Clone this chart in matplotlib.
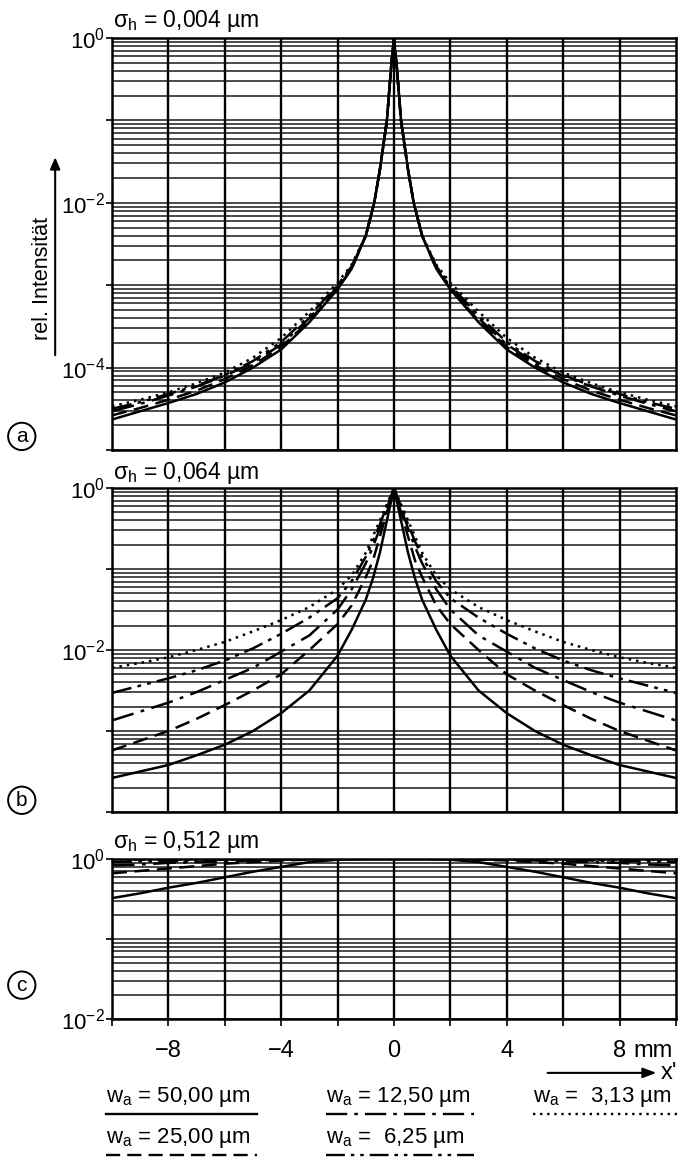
import numpy as np
import matplotlib
matplotlib.use("Agg")
import matplotlib.pyplot as plt
from matplotlib.lines import Line2D

plt.rcParams['font.family'] = ['Liberation Sans', 'DejaVu Sans']
plt.rcParams['mathtext.fontset'] = 'custom'
plt.rcParams['mathtext.rm'] = 'Liberation Sans'
plt.rcParams['mathtext.it'] = 'Liberation Sans'

# |x'| in mm and log10 of the rel. intensity (curves are symmetric)
widths = ['50,00', '25,00', '12,50', ' 6,25', ' 3,13']

# panel a, sigma_h = 0,004 um
xa = [0, 0.1, 0.25, 0.5, 0.7, 1, 1.5, 2, 3, 4, 5, 6, 7, 8, 9, 10]
la_50 = [0, -0.35, -1.0, -1.6, -2.0, -2.4, -2.8, -3.05, -3.45, -3.78, -4.0, -4.18, -4.32, -4.43, -4.53, -4.63]
la_25 = [0, -0.35, -1.0, -1.6, -2.0, -2.4, -2.8, -3.04, -3.43, -3.75, -3.97, -4.14, -4.28, -4.39, -4.49, -4.58]
la_12 = [0, -0.35, -1.0, -1.6, -2.0, -2.4, -2.78, -3.02, -3.4, -3.72, -3.94, -4.1, -4.23, -4.34, -4.44, -4.53]
la_6 = [0, -0.35, -1.0, -1.6, -2.0, -2.4, -2.77, -3.0, -3.37, -3.69, -3.92, -4.09, -4.22, -4.32, -4.42, -4.5]
la_3 = [0, -0.35, -1.0, -1.6, -2.0, -2.4, -2.75, -2.97, -3.32, -3.64, -3.88, -4.06, -4.19, -4.3, -4.39, -4.47]

# panel b, sigma_h = 0,064 um
xb = [0, 0.25, 0.5, 0.75, 1, 1.5, 2, 3, 4, 5, 6, 7, 8, 9, 10]
lb_50 = [0, -0.4, -0.8, -1.12, -1.38, -1.75, -2.07, -2.5, -2.78, -3.0, -3.17, -3.3, -3.42, -3.5, -3.58]
lb_25 = [0, -0.3, -0.6, -0.9, -1.1, -1.45, -1.68, -2.0, -2.3, -2.5, -2.68, -2.85, -3.0, -3.12, -3.24]
lb_12 = [0, -0.25, -0.5, -0.73, -0.93, -1.25, -1.5, -1.82, -2.02, -2.22, -2.37, -2.52, -2.65, -2.76, -2.87]
lb_6 = [0, -0.22, -0.45, -0.66, -0.85, -1.15, -1.36, -1.6, -1.8, -1.98, -2.13, -2.25, -2.35, -2.44, -2.53]
lb_3 = [0, -0.2, -0.4, -0.6, -0.8, -1.08, -1.25, -1.47, -1.63, -1.77, -1.9, -2.0, -2.09, -2.16, -2.22]

# panel c, sigma_h = 0,512 um
xc = [0, 1, 2, 3, 4, 5, 6, 7, 8, 9, 10]
lc_50 = [0, 0, -0.01, -0.04, -0.1, -0.16, -0.23, -0.3, -0.36, -0.43, -0.49]
lc_25 = [0, 0, 0, -0.01, -0.02, -0.04, -0.06, -0.09, -0.12, -0.15, -0.18]
lc_12 = [0, 0, 0, 0, -0.01, -0.02, -0.03, -0.04, -0.05, -0.07, -0.08]
lc_6 = [0, 0, 0, 0, 0, -0.01, -0.01, -0.02, -0.03, -0.03, -0.04]
lc_3 = [0, 0, 0, 0, 0, 0, 0, -0.01, -0.01, -0.01, -0.02]

styles = ['-', (0, (6, 3)), (0, (9, 3, 1.5, 3)), (0, (8, 2.5, 1.5, 2.5, 1.5, 2.5)), (0, (1, 2))]

panels = [
    (xa, [la_50, la_25, la_12, la_6, la_3], 'σ$_h$ = 0,004 µm', (-5, 0), [0, -2, -4]),
    (xb, [lb_50, lb_25, lb_12, lb_6, lb_3], 'σ$_h$ = 0,064 µm', (-4, 0), [0, -2]),
    (xc, [lc_50, lc_25, lc_12, lc_6, lc_3], 'σ$_h$ = 0,512 µm', (-2, 0), [0, -2]),
]

fig = plt.figure(figsize=(6.81, 11.70), dpi=100)
rects = [[0.1645, 0.6154, 0.828, 0.3521],
         [0.1645, 0.3060, 0.828, 0.2769],
         [0.1645, 0.1291, 0.828, 0.1368]]
title_y = [0.982, 0.5957, 0.2803]
letter_y = [0.627, 0.316, 0.158]

for i, (xs, series, title, (dlo, dhi), labs) in enumerate(panels):
    ax = fig.add_axes(rects[i])
    ax.set_yscale('log')
    ax.set_xlim(-10, 10)
    ax.set_ylim(10.0 ** dlo, 10.0 ** dhi)
    # log paper
    for d in range(dlo, dhi):
        for k in range(1, 10):
            ax.axhline(k * 10.0 ** d, color='#1a1a1a', lw=1.1, zorder=1)
    for xv in range(-8, 9, 2):
        ax.axvline(xv, color='k', lw=1.7, zorder=1)
    xs = np.array(xs)
    xfull = np.concatenate([-xs[::-1], xs[1:]])
    for s, ls in zip(series, styles):
        s = np.array(s)
        yfull = 10.0 ** np.concatenate([s[::-1], s[1:]])
        ax.plot(xfull, yfull, color='k', lw=1.8, linestyle=ls, zorder=3)
    ax.set_yticks([10.0 ** v for v in labs])
    ax.set_yticklabels(['$\\mathregular{10^{%d}}$' % v for v in labs], fontsize=16)
    ax.set_yticks([10.0 ** v for v in range(dlo, dhi + 1) if v not in labs], minor=True)
    ax.set_yticklabels([], minor=True)
    ax.set_xticks(range(-10, 11, 2))
    ax.tick_params(axis='y', which='both', length=4, width=1.2, pad=1, direction='out')
    if i == 2:
        ax.set_xticklabels(['', '\u22128', '', '\u22124', '', '0', '', '4', '', '8', ''], fontsize=17)
        ax.tick_params(axis='x', length=5, width=1.2, pad=10, direction='out')
    else:
        ax.tick_params(axis='x', length=0, labelbottom=False)
    for sp in ax.spines.values():
        sp.set_linewidth(1.8)
    fig.text(0.166, title_y[i], title, fontsize=16.5, ha='left', va='center')
    fig.text(0.032, letter_y[i], 'abc'[i], fontsize=15, ha='center', va='center',
             bbox=dict(boxstyle='circle,pad=0.2', fc='white', ec='k', lw=1.4))

# unit next to the last x tick label
fig.text(0.930, 0.1015, 'mm', fontsize=17, ha='left', va='center')

# y axis label with arrow
fig.text(0.062, 0.762, 'rel. Intensität', rotation=90, fontsize=15.5, ha='center', va='center')
fig.add_artist(matplotlib.patches.FancyArrowPatch((0.081, 0.694), (0.081, 0.868),
               transform=fig.transFigure, arrowstyle='-|>,head_length=7,head_width=3',
               color='k', lw=1.5))

# x' arrow
fig.add_artist(matplotlib.patches.FancyArrowPatch((0.80, 0.083), (0.968, 0.083),
               transform=fig.transFigure, arrowstyle='-|>,head_length=8,head_width=3',
               color='k', lw=1.5))
fig.text(0.970, 0.083, "x'", fontsize=17, ha='left', va='center')

# legend rows
cols = [(0.155, 0.377), (0.479, 0.696), (0.783, 0.998)]
order = [(0, 0), (1, 0), (2, 1), (3, 1), (4, 2)]  # series index, column
row_of = {0: 0, 2: 0, 4: 0, 1: 1, 3: 1}
row_text_y = [0.062, 0.027]
row_line_y = [0.048, 0.013]
for si, ci in order:
    r = row_of[si]
    x0, x1 = cols[ci]
    fig.text(x0, row_text_y[r], '$\\mathregular{w_a}$ = %s µm' % widths[si], fontsize=16,
             ha='left', va='center')
    fig.add_artist(Line2D([x0, x1], [row_line_y[r], row_line_y[r]], transform=fig.transFigure,
                          color='k', lw=1.7, linestyle=styles[si]))

fig.savefig('out.png', dpi=100)
